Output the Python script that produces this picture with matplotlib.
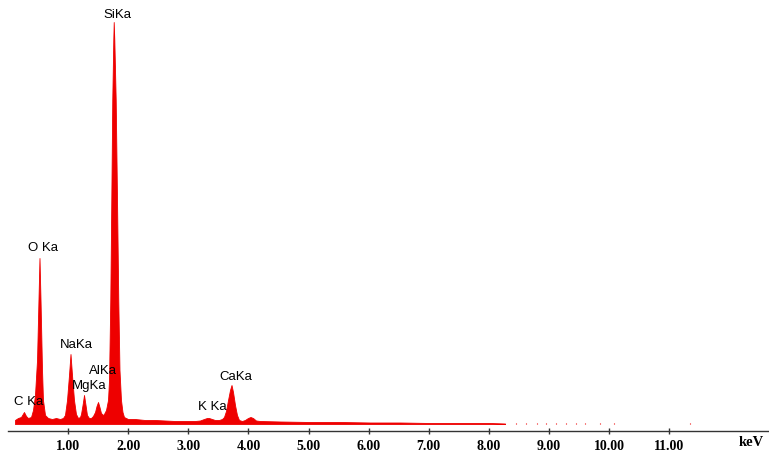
import matplotlib
matplotlib.use("Agg")
import matplotlib.pyplot as plt

# EDS spectrum: energy (keV) and counts
energy_kev = [0.116, 0.166, 0.216, 0.266, 0.300, 0.333, 0.383, 0.416, 0.449, 0.483,
              0.507, 0.524, 0.541, 0.566, 0.582, 0.616, 0.666, 0.732, 0.799, 0.865,
              0.915, 0.948, 0.982, 1.015, 1.040, 1.065, 1.098, 1.131, 1.165, 1.198,
              1.215, 1.240, 1.265, 1.290, 1.314, 1.348, 1.381, 1.414, 1.448, 1.473,
              1.498, 1.522, 1.547, 1.581, 1.597, 1.631, 1.664, 1.681, 1.702, 1.719,
              1.735, 1.752, 1.759, 1.769, 1.792, 1.814, 1.835, 1.855, 1.880, 1.905,
              1.930, 1.997, 2.113, 2.280, 2.446, 2.612, 2.779, 2.945, 3.111, 3.195,
              3.261, 3.311, 3.344, 3.394, 3.444, 3.511, 3.561, 3.594, 3.627, 3.661,
              3.694, 3.719, 3.744, 3.777, 3.810, 3.844, 3.894, 3.943, 3.993, 4.035,
              4.077, 4.126, 4.193, 4.526, 5.025, 5.524, 6.023, 6.522, 7.022, 7.521,
              8.020, 8.270]
counts = [40, 60, 70, 120, 80, 60, 70, 140, 290, 640,
          1240, 1660, 1240, 540, 240, 90, 60, 50, 60, 50,
          60, 90, 240, 490, 700, 490, 240, 100, 60, 70,
          100, 190, 290, 190, 90, 60, 60, 80, 120, 180,
          220, 170, 110, 90, 100, 140, 240, 440, 1240, 2240,
          3240, 3840, 4020, 3840, 3240, 2240, 1240, 540, 240, 120,
          70, 50, 50, 40, 40, 35, 30, 30, 30, 35,
          50, 60, 60, 50, 40, 40, 50, 70, 130, 240,
          340, 390, 320, 190, 90, 40, 30, 40, 60, 70,
          60, 35, 30, 25, 20, 20, 15, 15, 10, 10,
          10, 5]

# isolated counts in the high-energy tail
tail_kev = [8.45, 8.62, 8.80, 8.95, 9.12, 9.28, 9.45, 9.60, 9.85, 10.08, 11.35]
tail_counts = [10, 10, 10, 10, 10, 10, 10, 10, 10, 10, 10]

# peak labels
peak_names = ["C Ka", "O Ka", "NaKa", "MgKa", "AlKa", "SiKa", "K Ka", "CaKa"]
label_kev = [0.349, 0.582, 1.131, 1.356, 1.581, 1.814, 3.394, 3.794]
label_counts = [220, 1760, 790, 380, 530, 4090, 170, 470]

tick_kev = [1, 2, 3, 4, 5, 6, 7, 8, 9, 10, 11]
tick_labels = ["1.00", "2.00", "3.00", "4.00", "5.00", "6.00", "7.00", "8.00",
               "9.00", "10.00", "11.00"]

RED = "#ee0000"
W, H = 769, 457
fig = plt.figure(figsize=(W / 100, H / 100), dpi=100)
# axes spans from top of figure down to the axis line
ax = fig.add_axes([0, (H - 430.5) / H, 1, 430.5 / H])
ax.set_xlim(-8 / 60.1, 761 / 60.1)
ax.set_ylim(-65, 4240)

ax.fill_between(energy_kev, 0, counts, color=RED, linewidth=0.6, edgecolor=RED)
ax.vlines(tail_kev, 0, tail_counts, color=RED, linewidth=0.8)

for name, xk, yc in zip(peak_names, label_kev, label_counts):
    ax.text(xk, yc, name, ha="center", va="center", fontsize=9.5,
            family="Liberation Sans", color="black")

for side in ("top", "right", "left"):
    ax.spines[side].set_visible(False)
ax.spines["bottom"].set_bounds(0, 761 / 60.1)
ax.spines["bottom"].set_color("#333333")
ax.spines["bottom"].set_linewidth(1.0)
ax.set_yticks([])
ax.set_xticks(tick_kev)
ax.set_xticklabels(tick_labels, family="Liberation Serif", fontweight="bold",
                   fontsize=10)
ax.tick_params(axis="x", direction="inout", length=4.5, width=1.0,
               color="#333333", pad=4.5)

fig.text(751 / W, 1 - 443 / H, "keV", ha="center", va="center",
         family="Liberation Serif", fontweight="bold", fontsize=10.5)

fig.savefig("out.png", dpi=100)
